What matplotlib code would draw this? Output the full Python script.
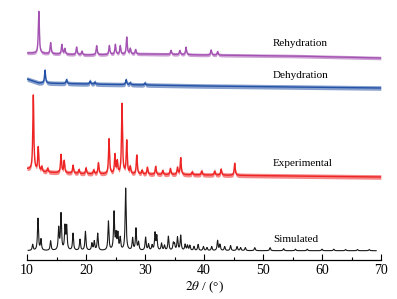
import numpy as np
import matplotlib
matplotlib.use("Agg")
import matplotlib.pyplot as plt

plt.rcParams['font.family'] = ['Liberation Serif', 'DejaVu Serif']
plt.rcParams['mathtext.fontset'] = 'stix'

# 峰位 (2θ) 与峰高 (相对强度), 读自原图
sim_pos = [10.96, 11.86, 12.37, 14.0, 15.37, 15.76, 16.44, 16.72, 17.8, 18.98,
           19.9, 21.0, 21.4, 21.98, 23.8, 24.75, 25.1, 25.4, 25.8, 26.72,
           27.9, 28.47, 28.9, 30.1, 30.6, 31.2, 31.7, 32.0, 32.8, 33.3,
           33.96, 34.8, 35.0, 35.5, 36.05, 36.8, 37.2, 37.6, 38.3, 39.0,
           39.9, 40.5, 41.3, 42.3, 42.7, 43.5, 44.5, 45.6, 46.2, 47.0,
           48.6, 51.2, 53.5, 55.5, 57.5, 60.0, 62.0, 64.0, 66.0, 68.0]
sim_int = [6, 32, 11, 9.5, 22, 36, 23, 23, 17, 11,
           19, 7, 9, 17, 29, 38, 15, 16, 12, 62,
           12, 22, 8, 13, 6, 5, 17, 14, 7, 5,
           14, 7, 6, 13, 15, 6, 5, 5, 4, 6,
           4, 3, 4, 10, 6, 4, 5, 4, 3, 3,
           3, 3, 2, 1.5, 1.5, 1.5, 1.5, 1.2, 1.2, 1.2]

exp_pos = [11.07, 11.9, 12.5, 13.5, 15.76, 16.3, 17.8, 18.8, 20.0, 21.3,
           22.1, 23.9, 24.9, 25.3, 26.1, 26.9, 27.5, 28.6, 29.5, 30.4,
           31.8, 33.0, 34.3, 35.5, 36.05, 38.0, 39.6, 41.8, 42.9, 45.2]
exp_int = [76, 24, 5, 4, 18, 12, 8, 4, 6, 4,
           11, 35, 19, 12, 70, 33, 7, 19, 4, 7,
           8, 4, 6, 7, 17, 3, 4, 4, 6, 12]

deh_pos = [13.05, 16.7, 20.7, 21.5, 26.8, 27.5, 30.0]
deh_int = [13, 4, 3, 2, 5, 2, 2]

reh_pos = [12.0, 14.0, 15.9, 16.4, 18.4, 19.3, 21.8, 23.95,
           24.97, 25.8, 26.9, 27.5, 28.4, 34.4, 35.9, 36.95,
           41.2, 42.3]
reh_int = [42, 11, 9.5, 5.5, 7.5, 3.5, 9, 9,
           10, 8.5, 17, 5.5, 4.5, 4, 4, 7.5,
           5, 3.5]

# 基线 (2θ, 强度)
sim_base_x = [10.2, 69.2]
sim_base_y = [9.3, 9.3]
exp_base_x = [10, 12, 20, 40, 70]
exp_base_y = [91, 88, 86, 85, 83]
deh_base_x = [10, 12, 20, 40, 70]
deh_base_y = [181, 177, 176, 174, 172]
reh_base_x = [10, 20, 30, 40, 55, 70]
reh_base_y = [207, 205, 206, 205, 204, 202]


def pattern(x, pos, inten, bx, by, w=0.2):
    base = np.interp(x, bx, by)
    y = np.zeros_like(x)
    for p, h in zip(pos, inten):
        y += h / (1 + ((x - p) / (w / 2)) ** 2)
    return base + y


fig = plt.figure(figsize=(3.97, 2.99), dpi=100)
ax = fig.add_axes([27 / 397, 1 - 260 / 299, 354 / 397, 255 / 299])

traces = [
    ("Simulated", sim_pos, sim_int, sim_base_x, sim_base_y, "#1a1a1a", 0.0, 21),
    ("Experimental", exp_pos, exp_int, exp_base_x, exp_base_y, "#ee2424", 2.3, 96),
    ("Dehydration", deh_pos, deh_int, deh_base_x, deh_base_y, "#2452a6", 2.3, 185),
    ("Rehydration", reh_pos, reh_int, reh_base_x, reh_base_y, "#a452b2", 1.8, 217),
]

for name, pos, inten, bx, by, c, amp, ty in traces:
    x = np.arange(bx[0], bx[-1], 0.02)
    y = pattern(x, pos, inten, bx, by)
    if amp > 0:
        ax.fill_between(x, y - amp, y + amp, color=c, lw=0, alpha=0.55)
        ax.plot(x, y, color=c, lw=1.0)
    else:
        ax.plot(x, y, color=c, lw=0.8)
    ax.text(51.7, ty, name, fontsize=8, va="center", ha="left")

ax.set_xlim(10, 70)
ax.set_ylim(0, 255)
for s in ["left", "right", "top"]:
    ax.spines[s].set_visible(False)
ax.spines["bottom"].set_linewidth(0.9)
ax.set_yticks([])
ax.set_xticks(np.arange(10, 71, 10))
ax.set_xticks(np.arange(15, 70, 10), minor=True)
ax.tick_params(axis="x", which="major", direction="in", length=4, width=0.8,
               labelsize=10, pad=3)
ax.tick_params(axis="x", which="minor", direction="in", length=2.5, width=0.8)
ax.set_xlabel(r"$2\theta$ / (°)", fontsize=9.5, labelpad=2)

fig.savefig("out.png", dpi=100)
